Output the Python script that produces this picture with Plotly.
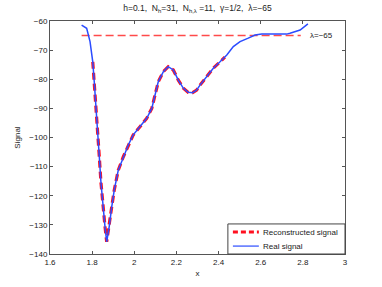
import plotly.graph_objects as go

real_x = [1.750, 1.774, 1.790, 1.803, 1.810, 1.818, 1.826, 1.834, 1.842, 1.853,
          1.861, 1.869, 1.881, 1.893, 1.905, 1.924, 1.948, 1.972, 1.995, 2.027,
          2.059, 2.083, 2.098, 2.114, 2.138, 2.161, 2.185, 2.209, 2.233, 2.256,
          2.277, 2.296, 2.312, 2.344, 2.375, 2.407, 2.439, 2.470, 2.502, 2.541,
          2.573, 2.605, 2.650, 2.700, 2.723, 2.739, 2.787, 2.824]
real_y = [-61.4, -62.5, -67.1, -74.0, -80.8, -88.8, -95.7, -106.6, -115.6, -125.9,
          -130.6, -135.8, -130.6, -123.8, -118.0, -111.2, -106.6, -102.5, -99.1, -96.3,
          -93.4, -90.0, -85.4, -80.8, -77.4, -75.7, -76.8, -80.3, -83.1, -84.5,
          -84.6, -83.7, -82.0, -79.1, -76.2, -74.0, -71.7, -68.8, -67.1, -65.9,
          -64.8, -64.5, -64.5, -64.5, -64.5, -64.2, -63.1, -61.0]

rec_x = [1.803, 1.810, 1.818, 1.826, 1.834, 1.842, 1.853, 1.861, 1.869, 1.881,
         1.893, 1.905, 1.924, 1.948, 1.972, 1.995, 2.027, 2.059, 2.083, 2.098,
         2.114, 2.138, 2.161, 2.185, 2.209, 2.233, 2.256, 2.277, 2.296, 2.312,
         2.344, 2.375, 2.407, 2.430]
rec_y = [-74.0, -80.8, -88.8, -95.7, -106.6, -115.6, -125.9, -130.6, -135.8, -130.6,
         -123.8, -118.0, -111.2, -106.6, -102.5, -99.1, -96.3, -93.4, -90.0, -85.4,
         -80.8, -77.4, -75.7, -76.8, -80.3, -83.1, -84.5, -84.6, -83.7, -82.0,
         -79.1, -76.2, -74.0, -72.4]

lam = -65
lam_x = [1.75, 2.79]

x_ticks = [1.6, 1.8, 2.0, 2.2, 2.4, 2.6, 2.8, 3.0]
x_tick_text = ["1.6", "1.8", "2", "2.2", "2.4", "2.6", "2.8", "3"]
y_ticks = [-60, -70, -80, -90, -100, -110, -120, -130, -140]
y_tick_text = ["−60", "−70", "−80", "−90", "−100", "−110", "−120", "−130", "−140"]

legend_names = ["Reconstructed signal", "Real signal"]

font = "Liberation Sans, Arial, sans-serif"
RED = "#ff1020"
BLUE = "#2b4cff"

fig = go.Figure()
fig.add_trace(go.Scatter(x=lam_x, y=[lam, lam], mode="lines",
                         line=dict(color="#ff4a4a", width=1.5, dash="8px,4px"),
                         showlegend=False, hoverinfo="skip"))
fig.add_trace(go.Scatter(x=rec_x, y=rec_y, mode="lines", name=legend_names[0],
                         line=dict(color=RED, width=3.2, dash="7px,4px"), showlegend=False))
fig.add_trace(go.Scatter(x=real_x, y=real_y, mode="lines", name=legend_names[1],
                         line=dict(color=BLUE, width=1.5), showlegend=False))

fig.add_annotation(x=lam_x[1], y=lam, text="λ=−65", showarrow=False,
                   xanchor="left", yanchor="middle", xshift=7,
                   font=dict(size=8, color="#222", family=font))

# Manual legend box (paper coordinates)
fig.add_shape(type="rect", xref="paper", yref="paper", x0=0.603, x1=1.0, y0=0.0, y1=0.129,
              line=dict(color="#444", width=1), fillcolor="white", layer="above")
fig.add_shape(type="line", xref="paper", yref="paper", x0=0.620, x1=0.708, y0=0.094, y1=0.094,
              line=dict(color=RED, width=3, dash="5px,3px"), layer="above")
fig.add_shape(type="line", xref="paper", yref="paper", x0=0.620, x1=0.708, y0=0.034, y1=0.034,
              line=dict(color=BLUE, width=1.2), layer="above")
fig.add_annotation(xref="paper", yref="paper", x=0.716, y=0.094, text=legend_names[0],
                   showarrow=False, xanchor="left", yanchor="middle",
                   font=dict(size=8, color="#222", family=font))
fig.add_annotation(xref="paper", yref="paper", x=0.716, y=0.034, text=legend_names[1],
                   showarrow=False, xanchor="left", yanchor="middle",
                   font=dict(size=8, color="#222", family=font))

axis_common = dict(showline=True, linecolor="#555", linewidth=1, mirror="ticks",
                   ticks="inside", ticklen=3, tickcolor="#555", showgrid=False,
                   zeroline=False, tickfont=dict(size=8, color="#222", family=font))

fig.update_layout(
    width=382, height=287,
    margin=dict(l=50, r=37, t=21, b=33),
    paper_bgcolor="white", plot_bgcolor="white",
    showlegend=False,
    title=dict(text="h=0.1,  N<sub>h</sub>=31,  N<sub>h,λ</sub> =11,  γ=1/2,  λ=−65",
               xref="paper", x=0.5, xanchor="center",
               yref="container", y=0.972, yanchor="middle",
               font=dict(size=8.5, color="#222", family=font)),
    xaxis=dict(range=[1.6, 3.0], tickvals=x_ticks, ticktext=x_tick_text,
               title=dict(text="x", font=dict(size=8, color="#222", family=font), standoff=4),
               **axis_common),
    yaxis=dict(range=[-140, -60], tickvals=y_ticks, ticktext=y_tick_text,
               title=dict(text="Signal", font=dict(size=8, color="#222", family=font), standoff=7),
               **axis_common),
)

fig.write_html("out.html", config={"displayModeBar": False},
               post_script="document.body.style.margin='0';document.body.style.padding='0';")
